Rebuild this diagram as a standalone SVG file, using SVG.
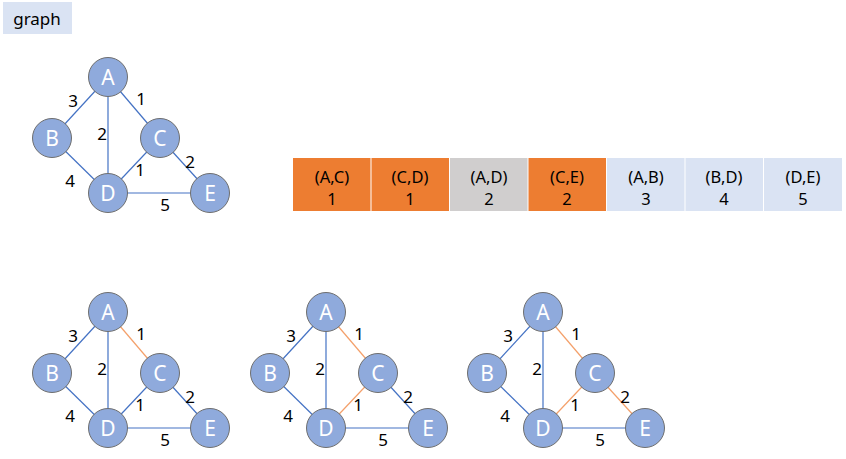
<svg xmlns="http://www.w3.org/2000/svg" width="846" height="459" viewBox="0 0 846 459">
<style>
.node circle{fill:#8FAADC;stroke:#6E6E6E;stroke-width:1}
.node text{fill:#fff;font-family:"Noto Sans","Open Sans",sans-serif;font-size:21px;text-anchor:middle;dominant-baseline:central}
.e{stroke:#4472C4;stroke-width:1.2;fill:none}
.o{stroke:#F4A06A;stroke-width:1.2;fill:none}
.lbl{font-family:"Noto Sans","Open Sans",sans-serif;font-size:17px;fill:#000;text-anchor:middle;dominant-baseline:central}
.cell text{font-family:"Noto Sans","Open Sans",sans-serif;font-size:16.5px;fill:#000;text-anchor:middle;dominant-baseline:central}
</style>
<defs>
<g id="nodes">
<g class="node"><circle cx="108" cy="77" r="19.5"/><text x="108" y="77">A</text></g>
<g class="node"><circle cx="52" cy="138" r="19.5"/><text x="52" y="138">B</text></g>
<g class="node"><circle cx="160" cy="138" r="19.5"/><text x="160" y="138">C</text></g>
<g class="node"><circle cx="108" cy="193" r="19.5"/><text x="108" y="193">D</text></g>
<g class="node"><circle cx="210" cy="193" r="19.5"/><text x="210" y="193">E</text></g>
</g>
<g id="labels">
<text class="lbl" x="73" y="100">3</text>
<text class="lbl" x="141" y="98">1</text>
<text class="lbl" x="102" y="133">2</text>
<text class="lbl" x="70" y="180">4</text>
<text class="lbl" x="140" y="169">1</text>
<text class="lbl" x="190" y="161">2</text>
<text class="lbl" x="165" y="204">5</text>
</g>
</defs>

<g id="title">
<rect x="3" y="2" width="69" height="32" fill="#DAE3F3"/>
<text x="37" y="18" font-family="Noto Sans,Open Sans,sans-serif" font-size="17" text-anchor="middle" dominant-baseline="central">graph</text>
</g>

<g id="graph1">
<g id="connectors1">
<line class="e" x1="108" y1="77" x2="52" y2="138"/>
<line class="e" x1="108" y1="77" x2="160" y2="138"/>
<line class="e" x1="108" y1="77" x2="108" y2="193"/>
<line class="e" x1="52" y1="138" x2="108" y2="193"/>
<line class="e" x1="160" y1="138" x2="108" y2="193"/>
<line class="e" x1="160" y1="138" x2="210" y2="193"/>
<line class="e" x1="108" y1="193" x2="210" y2="193"/>
</g>
<use href="#labels"/>
<use href="#nodes"/>
</g>

<g id="table" class="cell">
<rect x="293" y="158" width="77.5" height="53" fill="#ED7D31"/>
<rect x="371.5" y="158" width="77.5" height="53" fill="#ED7D31"/>
<rect x="450" y="158" width="77.5" height="53" fill="#D0CECE"/>
<rect x="528.5" y="158" width="77.5" height="53" fill="#ED7D31"/>
<rect x="607" y="158" width="77.5" height="53" fill="#DAE3F3"/>
<rect x="685.5" y="158" width="77.5" height="53" fill="#DAE3F3"/>
<rect x="764" y="158" width="78" height="53" fill="#DAE3F3"/>
<text x="332" y="176">(A,C)</text><text x="332" y="198">1</text>
<text x="410" y="176">(C,D)</text><text x="410" y="198">1</text>
<text x="489" y="176">(A,D)</text><text x="489" y="198">2</text>
<text x="567" y="176">(C,E)</text><text x="567" y="198">2</text>
<text x="646" y="176">(A,B)</text><text x="646" y="198">3</text>
<text x="724" y="176">(B,D)</text><text x="724" y="198">4</text>
<text x="803" y="176">(D,E)</text><text x="803" y="198">5</text>
</g>

<g id="graph2" transform="translate(0,235)">
<g id="connectors2">
<line class="e" x1="108" y1="77" x2="52" y2="138"/>
<line class="o" x1="108" y1="77" x2="160" y2="138"/>
<line class="e" x1="108" y1="77" x2="108" y2="193"/>
<line class="e" x1="52" y1="138" x2="108" y2="193"/>
<line class="e" x1="160" y1="138" x2="108" y2="193"/>
<line class="e" x1="160" y1="138" x2="210" y2="193"/>
<line class="e" x1="108" y1="193" x2="210" y2="193"/>
</g>
<use href="#labels"/>
<use href="#nodes"/>
</g>

<g id="graph3" transform="translate(218,235)">
<g id="connectors3">
<line class="e" x1="108" y1="77" x2="52" y2="138"/>
<line class="o" x1="108" y1="77" x2="160" y2="138"/>
<line class="e" x1="108" y1="77" x2="108" y2="193"/>
<line class="e" x1="52" y1="138" x2="108" y2="193"/>
<line class="o" x1="160" y1="138" x2="108" y2="193"/>
<line class="e" x1="160" y1="138" x2="210" y2="193"/>
<line class="e" x1="108" y1="193" x2="210" y2="193"/>
</g>
<use href="#labels"/>
<use href="#nodes"/>
</g>

<g id="graph4" transform="translate(435,235)">
<g id="connectors4">
<line class="e" x1="108" y1="77" x2="52" y2="138"/>
<line class="o" x1="108" y1="77" x2="160" y2="138"/>
<line class="e" x1="108" y1="77" x2="108" y2="193"/>
<line class="e" x1="52" y1="138" x2="108" y2="193"/>
<line class="o" x1="160" y1="138" x2="108" y2="193"/>
<line class="o" x1="160" y1="138" x2="210" y2="193"/>
<line class="e" x1="108" y1="193" x2="210" y2="193"/>
</g>
<use href="#labels"/>
<use href="#nodes"/>
</g>
</svg>
